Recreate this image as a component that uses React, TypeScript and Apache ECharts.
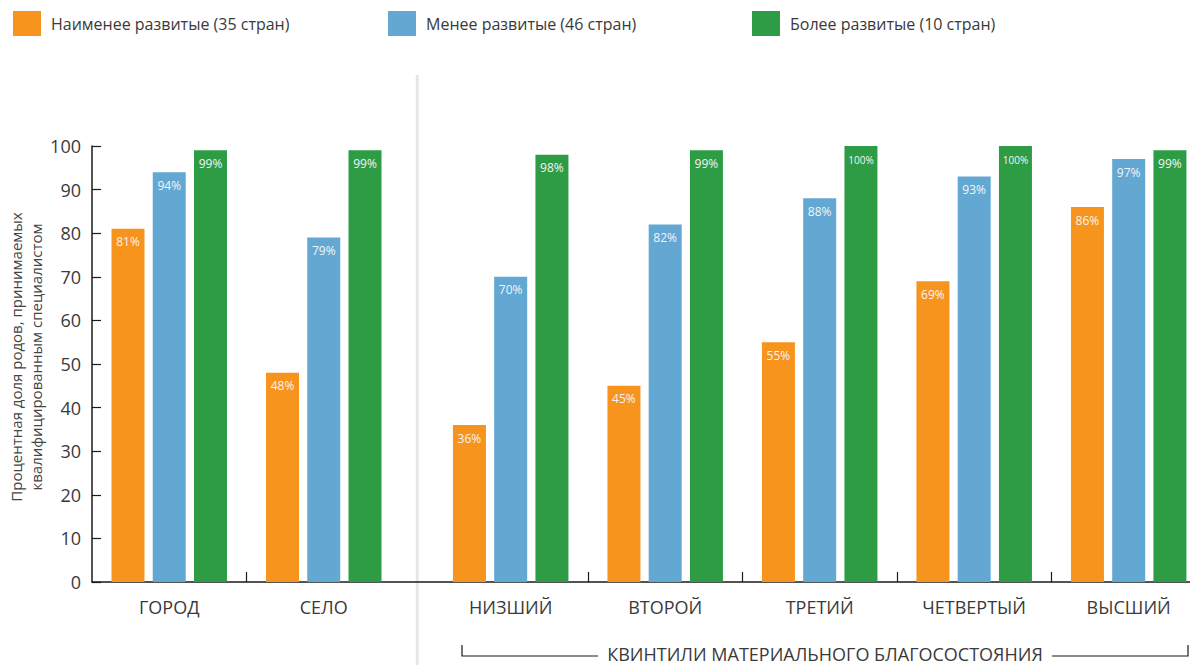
import React, { useEffect, useRef } from "react";
import * as echarts from "echarts";

// Groups: place of residence (first two), then wealth quintiles
const categories = ["ГОРОД", "СЕЛО", "НИЗШИЙ", "ВТОРОЙ", "ТРЕТИЙ", "ЧЕТВЕРТЫЙ", "ВЫСШИЙ"];
const seriesNames = [
  "Наименее развитые (35 стран)",
  "Менее развитые (46 стран)",
  "Более развитые (10 стран)",
];
const leastDeveloped = [81, 48, 36, 45, 55, 69, 86];
const lessDeveloped = [94, 79, 70, 82, 88, 93, 97];
const moreDeveloped = [99, 99, 98, 99, 100, 100, 99];
const seriesValues = [leastDeveloped, lessDeveloped, moreDeveloped];
const seriesColors = ["#F7941E", "#62A8D3", "#2E9B45"];

const yMin = 0;
const yMax = 100;
const yInterval = 10;

const yAxisTitle = "Процентная доля родов, принимаемых\nквалифицированным специалистом";
const quintileTitle = "КВИНТИЛИ МАТЕРИАЛЬНОГО БЛАГОСОСТОЯНИЯ";

// Layout (pixels / axis units)
const FONT = "'Open Sans', 'Noto Sans', sans-serif";
const GRID_LEFT = 92;
const GRID_TOP = 146;
const GRID_HEIGHT = 436;
const UNIT_PX = 154.5; // width of one category slot
const GROUP_GAP = 0.21; // extra space between residence and quintile groups
const QUINTILE_START = 2;
const X_MAX = categories.length + GROUP_GAP;

const slotCenter = (i: number) => i + 0.5 + (i >= QUINTILE_START ? GROUP_GAP : 0);
const labelValues = categories.map((_, i) => slotCenter(i));
const tickValues = categories
  .map((_, i) => i)
  .filter((i) => i < categories.length - 1 && i !== QUINTILE_START - 1)
  .map((i) => slotCenter(i) + 0.5);

const toPx = (v: number) => GRID_LEFT + v * UNIT_PX;

export default function App() {
  const ref = useRef<HTMLDivElement>(null);

  useEffect(() => {
    if (!ref.current) return;
    const chart = echarts.init(ref.current, undefined, { renderer: "svg" });

    const separatorX = toPx(QUINTILE_START + GROUP_GAP / 2);
    const bracketY = 656;
    const bracketTop = 645;
    const bracketLeft = 462;
    const bracketRight = 1188;
    const textCenter = 825;
    const textHalf = 217;

    const legendLefts = [13, 388, 752];

    chart.setOption({
      animation: false,
      backgroundColor: "#ffffff",
      textStyle: { fontFamily: FONT },
      legend: seriesNames.map((name, i) => ({
        data: [name],
        left: legendLefts[i],
        top: 11,
        itemWidth: 28,
        itemHeight: 25,
        icon: "rect",
        padding: 0,
        selectedMode: false,
        textStyle: {
          fontFamily: FONT,
          fontSize: 16,
          color: "#3a3a3a",
          padding: [0, 0, 0, 5],
        },
      })),
      grid: {
        left: GRID_LEFT,
        top: GRID_TOP,
        height: GRID_HEIGHT,
        width: X_MAX * UNIT_PX,
        containLabel: false,
        outerBoundsMode: "none",
      },
      xAxis: {
        type: "value",
        min: 0,
        max: X_MAX,
        splitLine: { show: false },
        axisLine: { show: true, lineStyle: { color: "#1a1a1a", width: 1.5 } },
        axisTick: {
          show: true,
          inside: true,
          length: 10,
          customValues: tickValues,
          lineStyle: { color: "#1a1a1a", width: 1.2 },
        },
        axisLabel: {
          customValues: labelValues,
          margin: 16,
          fontFamily: FONT,
          fontSize: 18,
          color: "#3a3a3a",
          formatter: (v: number) => {
            const idx = labelValues.findIndex((c) => Math.abs(c - v) < 1e-6);
            return idx >= 0 ? categories[idx] : "";
          },
        },
      },
      yAxis: {
        type: "value",
        min: yMin,
        max: yMax,
        interval: yInterval,
        splitLine: { show: false },
        axisLine: { show: true, lineStyle: { color: "#1a1a1a", width: 1.5 } },
        axisTick: { show: true, inside: true, length: 9, lineStyle: { color: "#1a1a1a", width: 1.2 } },
        axisLabel: { fontFamily: FONT, fontSize: 18, color: "#3a3a3a", margin: 11 },
        name: yAxisTitle,
        nameLocation: "middle",
        nameRotate: 90,
        nameGap: 46,
        nameMoveOverlap: false,
        nameTextStyle: {
          fontFamily: FONT,
          fontSize: 15,
          lineHeight: 20,
          color: "#444444",
          align: "center",
          padding: [0, 0, 0, 14],
        },
      },
      series: seriesValues.map((vals, s) => ({
        name: seriesNames[s],
        type: "bar",
        barWidth: 33,
        barGap: "25%",
        itemStyle: { color: seriesColors[s] },
        label: {
          show: true,
          position: "insideTop",
          distance: 7,
          color: "#f5f5f5",
          fontFamily: FONT,
          fontSize: 12,
          formatter: (p: any) => `${p.value[1]}%`,
        },
        data: vals.map((v, i) => ({
          value: [slotCenter(i), v],
          label: v >= 100 ? { fontSize: 10, distance: 9 } : undefined,
        })),
      })),
      graphic: [
        {
          type: "rect",
          z: -1,
          shape: { x: separatorX - 1.5, y: 75, width: 3, height: 600 },
          style: { fill: "#e6e6e6" },
        },
        {
          type: "polyline",
          shape: {
            points: [
              [bracketLeft, bracketTop],
              [bracketLeft, bracketY],
              [textCenter - textHalf - 10, bracketY],
            ],
          },
          style: { stroke: "#1a1a1a", lineWidth: 1.2, fill: "none" },
        },
        {
          type: "polyline",
          shape: {
            points: [
              [textCenter + textHalf + 10, bracketY],
              [bracketRight, bracketY],
              [bracketRight, bracketTop],
            ],
          },
          style: { stroke: "#1a1a1a", lineWidth: 1.2, fill: "none" },
        },
        {
          type: "text",
          x: textCenter,
          y: 654,
          style: {
            text: quintileTitle,
            fontFamily: FONT,
            fontSize: 18,
            fill: "#3a3a3a",
            align: "center",
            verticalAlign: "middle",
          },
        },
      ],
    });

    return () => chart.dispose();
  }, []);

  return (
    <div
      ref={ref}
      style={{ position: "fixed", left: 0, top: 0, width: 1190, height: 665, background: "#fff" }}
    />
  );
}
